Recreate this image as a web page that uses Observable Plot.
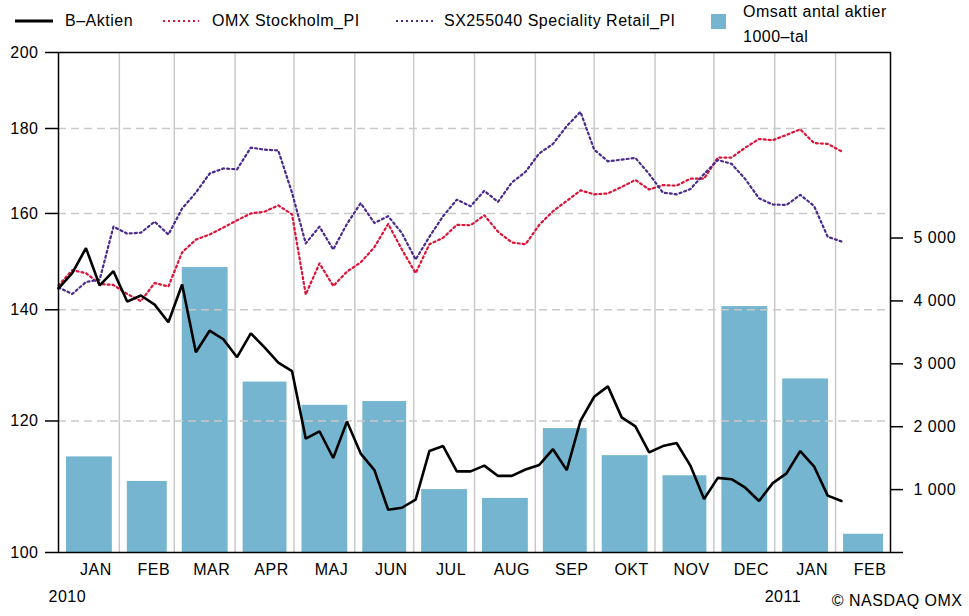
<!DOCTYPE html>
<html><head><meta charset="utf-8">
<script src="https://cdn.jsdelivr.net/npm/d3@7"></script>
<script src="https://cdn.jsdelivr.net/npm/@observablehq/plot@0.6"></script>
<style>
body{margin:0;background:#fff;font-family:"Liberation Sans",Arial,sans-serif;}
#legend{position:relative;height:42px;width:969px;font-size:16px;color:#000;letter-spacing:0.5px}
#legend span{position:absolute;line-height:18px;white-space:nowrap}
#legend svg{position:absolute}
#chart{position:relative;width:969px;height:574px}
#chart svg{position:absolute;left:0;top:0}
</style></head><body>
<div id="legend"></div><div id="chart"></div>
<script>
// ---- data ----
const monthLabels = ["JAN","FEB","MAR","APR","MAJ","JUN","JUL","AUG","SEP","OKT","NOV","DEC","JAN","FEB"];
const monthStarts = ["2010-01-01","2010-02-01","2010-03-01","2010-04-01","2010-05-01","2010-06-01","2010-07-01","2010-08-01","2010-09-01","2010-10-01","2010-11-01","2010-12-01","2011-01-01","2011-02-01","2011-03-01"];
const volume = [1520,1130,4530,2710,2340,2400,1000,860,1970,1540,1220,3910,2760,290]; // 1000-tal
const firstWeek = "2010-01-01";
const bAktien = [144.2,147.3,152.5,144.8,147.7,141.6,142.8,141.0,137.6,145.0,
  132.0,136.0,134.4,131.1,135.5,132.9,130.1,128.6,117.1,118.3,
  114.0,119.9,114.7,112.1,106.1,106.4,107.6,115.1,115.9,111.9,
  111.9,112.8,111.2,111.2,112.2,112.9,115.4,112.1,120.0,124.1,
  125.9,120.6,119.1,114.9,115.9,116.4,112.8,107.7,110.9,110.7,
  109.4,107.4,110.1,111.6,115.1,112.7,108.2,107.4];
const omx = [144.8,147.9,147.3,145.1,144.9,143.1,141.7,145.3,144.6,151.6,
  154.3,155.4,156.9,158.5,160.0,160.4,161.8,159.8,143.0,149.3,
  144.7,147.6,149.5,152.7,157.7,152.2,147.3,153.3,154.7,157.5,
  157.4,159.6,156.0,153.7,153.3,157.5,160.5,162.8,165.2,164.3,
  164.5,166.0,167.6,165.4,166.4,166.3,167.9,167.9,172.9,172.9,
  175.3,177.4,177.1,178.4,179.8,176.4,176.2,174.4];
const sx = [144.4,143.1,145.5,146.0,157.1,155.6,155.8,158.2,155.4,161.1,
  164.7,169.1,170.3,170.1,175.3,174.8,174.6,164.7,153.5,157.1,
  152.2,157.7,162.3,157.9,159.4,155.7,150.1,154.9,159.4,163.1,
  161.6,165.1,162.6,167.0,169.5,173.9,176.2,180.6,184.2,174.8,
  172.0,172.4,172.8,169.0,164.7,164.3,165.5,169.0,172.3,171.4,
  167.8,163.4,162.0,161.9,164.2,161.7,154.9,153.9];
const leftTicks = [100,120,140,160,180,200];
const gridValues = [120,140,160,180];
const rightTicks = [0,1000,2000,3000,4000,5000];
const yearLabels = [{date:"2010-01-01", text:"2010"},{date:"2011-01-01", text:"2011"}];
const seriesNames = ["B–Aktien","OMX Stockholm_PI","SX255040 Speciality Retail_PI","Omsatt antal aktier","1000–tal"];

// ---- build tables ----
const parse = d3.utcParse("%Y-%m-%d");
const starts = monthStarts.map(parse);
const bars = volume.map((v,i)=>({start:starts[i], end:starts[i+1], v}));
const mids = monthLabels.map((m,i)=>({date:new Date((+starts[i] + +starts[i+1])/2), label:m}));
const w0 = parse(firstWeek);
const weekly = arr => arr.map((v,i)=>({date:d3.utcDay.offset(w0, 7*i), v}));
const bData = weekly(bAktien), omxData = weekly(omx), sxData = weekly(sx);

const FONT = '"Liberation Sans", Arial, sans-serif';
const xScale = {type:"utc", domain:[starts[0], starts[starts.length-1]], axis:null};
const common = {width:969, height:574, marginLeft:58, marginRight:79, marginTop:10, marginBottom:64};

const RED = "#dc1439", PURPLE = "#4a2a8c", BLUE = "#75b5cf";
const DOTS = "2,3";

const p1 = Plot.plot({...common,
  style:{fontFamily:FONT, fontSize:"16px", color:"#000", background:"#fff", overflow:"visible", letterSpacing:"0.5px"},
  x:xScale, y:{domain:[0,7950], axis:null},
  marks:[
    Plot.ruleX(starts.slice(1,-1), {stroke:"#c9c9c9", strokeWidth:1.5}),
    Plot.rectY(bars, {x1:"start", x2:"end", y:"v", fill:BLUE, insetLeft:8, insetRight:7}),
    Plot.axisY(rightTicks, {anchor:"right", label:null, tickSize:12, tickPadding:11, stroke:"#000", strokeWidth:1.5,
      tickFormat:d=> d===0 ? "" : d3.format(",")(d).replace(/,/g," ")})
  ]});

const p2 = Plot.plot({...common,
  style:{fontFamily:FONT, fontSize:"16px", color:"#000", background:"transparent", overflow:"visible", letterSpacing:"0.5px"},
  x:xScale, y:{type:"log", domain:[100,200], axis:null},
  marks:[
    Plot.ruleY(gridValues, {stroke:"#c9c9c9", strokeWidth:1.5, strokeDasharray:"8,5"}),
    Plot.line(omxData, {x:"date", y:"v", stroke:RED, strokeWidth:2.2, strokeDasharray:DOTS}),
    Plot.line(sxData, {x:"date", y:"v", stroke:PURPLE, strokeWidth:2.2, strokeDasharray:DOTS}),
    Plot.line(bData, {x:"date", y:"v", stroke:"#000", strokeWidth:2.6, strokeLinejoin:"miter"}),
    Plot.frame({stroke:"#000", strokeWidth:1.5}),
    Plot.axisY(leftTicks, {anchor:"left", label:null, tickSize:13, tickPadding:7, stroke:"#000", strokeWidth:1.5}),
    Plot.text(mids, {x:"date", text:"label", frameAnchor:"bottom", lineAnchor:"bottom", dy:22, dx:7, fontSize:16}),
    Plot.text(yearLabels, {x:d=>parse(d.date), text:"text", frameAnchor:"bottom", lineAnchor:"bottom", textAnchor:"start", dx:-10, dy:49, fontSize:16}),
    Plot.text(["© NASDAQ OMX"], {frameAnchor:"bottom-right", lineAnchor:"bottom", textAnchor:"end", dx:72, dy:53, fontSize:16})
  ]});

const chart = document.getElementById("chart");
chart.append(p1, p2);

// ---- legend ----
const lg = document.getElementById("legend");
function swatchLine(x, color, w, dash){
  const s = `<svg style="left:${x}px;top:16px" width="${w}" height="10"><line x1="0" x2="${w}" y1="5" y2="5" stroke="${color}" stroke-width="${dash?2.2:3}" ${dash?'stroke-dasharray="'+DOTS+'"':''}/></svg>`;
  lg.insertAdjacentHTML("beforeend", s);
}
function label(x, y, t){ const sp=document.createElement("span"); sp.style.left=x+"px"; sp.style.top=y+"px"; sp.textContent=t; lg.appendChild(sp); }
swatchLine(15,"#000",38,false); label(65,12,seriesNames[0]);
swatchLine(163,RED,36,true); label(212,12,seriesNames[1]);
swatchLine(396,PURPLE,37,true); label(444,12,seriesNames[2]);
lg.insertAdjacentHTML("beforeend", `<div style="position:absolute;left:711px;top:14px;width:15px;height:15px;background:${BLUE}"></div>`);
label(743,3,seriesNames[3]); label(743,28,seriesNames[4]);
</script>
</body></html>
